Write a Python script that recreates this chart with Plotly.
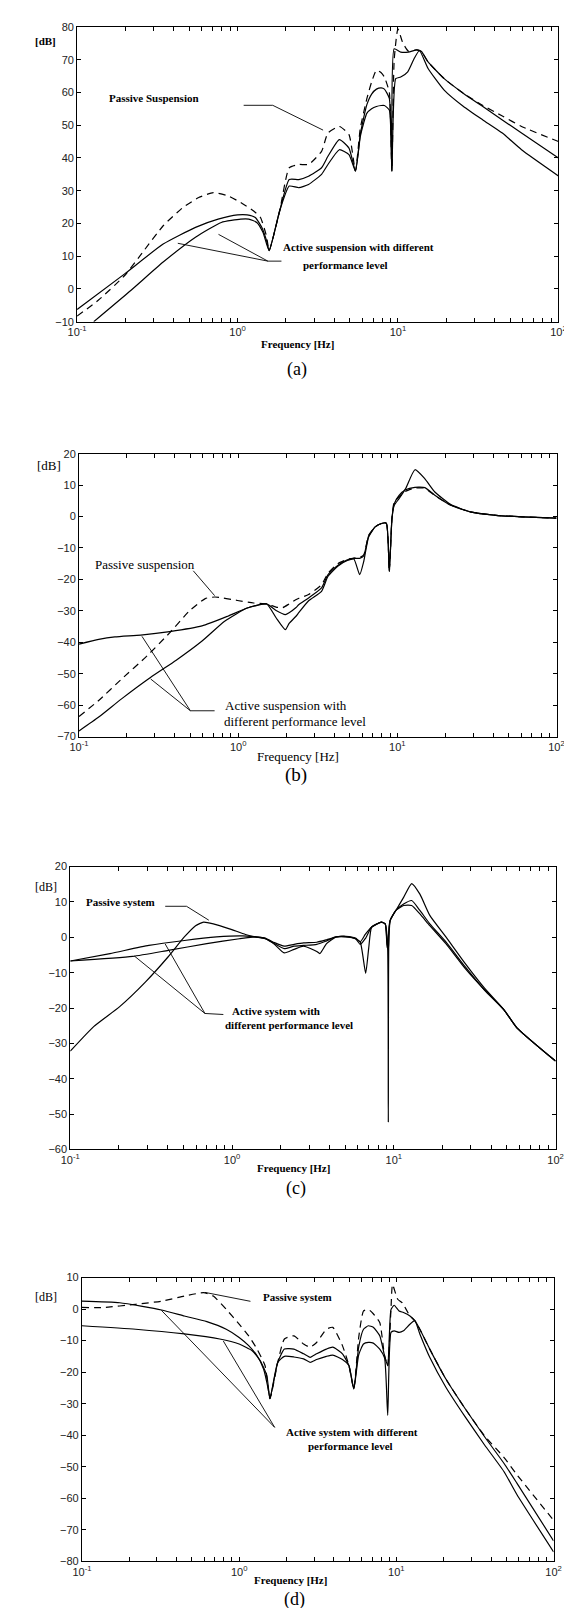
import plotly.graph_objects as go

W, H = 572, 1608

# ---------------- data (frequency in Hz, magnitude in dB) ----------------
# Panel (a)
fa_passive = [0.1,0.136,0.198,0.261,0.344,0.455,0.573,0.706,0.871,1.047,1.26,1.39,1.517,1.574,1.83,2.1,2.41,2.77,3.34,3.66,4.31,4.95,5.43,5.82,6.39,6.85,7.34,7.86,8.23,8.83,9.16,9.47,9.99,10.7,11.6,13.1,14.0,15.4,19.4,25.6,33.8,44.7,58.9,100]
da_passive = [-8.3,-3.4,4.1,11.7,19.3,24.8,27.9,29.4,28.4,26.4,23.8,21.8,16.0,11.7,23.8,37.0,38.0,38.0,42.0,47.6,49.6,47.1,36.0,49.0,58.0,63.2,66.8,66.0,64.7,60.0,36.0,70.0,79.4,75.2,72.6,73.0,72.5,69.3,64.2,59.7,56.0,52.8,49.6,45.0]
fa_active1 = [0.1,0.198,0.344,0.547,0.757,1.0,1.148,1.29,1.416,1.517,1.574,1.83,2.1,2.41,2.77,3.34,3.66,4.31,4.95,5.43,5.82,6.1,6.39,6.85,7.34,7.86,8.23,8.83,9.16,9.47,10.4,11.6,13.1,14.0,15.4,19.4,25.6,33.8,44.7,58.9,100]
da_active1 = [-6.3,4.6,13.7,18.8,21.3,22.6,22.6,21.8,18.8,14.7,11.7,23.8,33.4,33.4,34.4,37.0,40.5,45.6,43.0,36.0,47.1,52.1,56.2,59.5,61.0,61.4,61.0,58.2,36.0,73.3,72.3,72.3,73.0,72.5,69.3,64.2,59.7,55.7,51.6,47.6,40.0]
fa_active2 = [0.127,0.217,0.344,0.547,0.792,1.047,1.175,1.318,1.44,1.574,1.83,2.1,2.41,2.77,3.34,3.66,4.31,4.95,5.43,5.82,6.1,6.39,6.85,7.34,7.86,8.23,8.83,9.16,9.68,10.4,11.5,12.6,13.6,15.4,19.4,25.6,33.8,44.7,58.9,100]
da_active2 = [-10,-0.4,8.2,15.8,20.3,21.3,21.3,20.3,17.3,11.7,23.8,31.4,30.9,31.9,35.0,38.0,42.5,41.0,36.0,46.5,50.5,53.6,55.0,55.7,56.0,56.0,54.6,36.0,64.2,64.7,66.3,70.3,72.8,67.3,60.7,55.7,51.6,47.6,42.5,34.5]

# Panel (b)
fb_passive = [0.1,0.133,0.185,0.268,0.371,0.492,0.621,0.714,0.99,1.25,1.51,1.73,1.9,2.09,2.3,2.41,2.77,3.34,3.67,4.22,4.85,5.33,5.8,6.15,6.6,7.25,7.95,8.53,8.9,9.25,9.55,10.25,11.25,12.9,14.9,17.2,21.7,28.7,41.7,60.7,100]
db_passive = [-63.6,-58.5,-51.7,-44.3,-37.0,-30.1,-26.1,-25.6,-26.7,-27.5,-27.8,-28.8,-29.0,-27.8,-26.5,-26.0,-24.8,-21.7,-18.0,-15.0,-13.6,-13.2,-13.0,-12.2,-6.0,-3.3,-2.2,-2.2,-17.5,-0.6,4.6,6.2,8.0,9.1,9.0,6.7,3.6,1.5,0.4,-0.1,-0.5]
fb_active1 = [0.1,0.133,0.168,0.244,0.371,0.593,0.861,1.14,1.51,1.73,1.98,2.09,2.3,2.41,2.77,3.34,3.67,4.22,4.85,5.33,5.8,6.15,6.6,7.25,7.95,8.53,8.9,9.25,9.55,10.25,11.25,12.9,14.9,17.2,21.7,28.7,41.7,60.7,100]
db_active1 = [-40.6,-39.1,-38.3,-37.7,-36.6,-34.8,-31.7,-29.1,-27.8,-32.2,-36.0,-34.0,-31.8,-30.5,-26.8,-23.8,-19.0,-15.8,-14.0,-13.5,-18.5,-14.3,-6.5,-3.3,-2.2,-2.0,-17.5,-0.6,3.5,5.7,8.8,14.9,12.0,7.8,3.8,1.5,0.4,-0.1,-0.5]
fb_active2 = [0.1,0.133,0.185,0.281,0.408,0.593,0.822,1.14,1.51,1.73,1.98,2.09,2.3,2.41,2.77,3.34,3.67,4.22,4.85,5.33,5.8,6.15,6.6,7.25,7.95,8.53,8.9,9.25,9.55,10.25,11.25,12.9,14.9,17.2,21.7,28.7,41.7,60.7,100]
db_active2 = [-68.2,-63.8,-58.0,-51.2,-45.7,-39.6,-33.3,-29.1,-27.8,-29.9,-31.2,-30.6,-29.0,-28.0,-25.9,-22.7,-18.5,-15.6,-13.8,-13.3,-13.3,-12.5,-6.2,-3.3,-2.2,-2.2,-17.5,-0.6,4.0,6.7,8.5,9.3,9.2,6.8,3.6,1.5,0.4,-0.1,-0.5]

# Panel (c)
fc_passive = [0.1,0.14,0.202,0.292,0.403,0.507,0.595,0.667,0.766,0.964,1.21,1.39,1.6,1.83,2.1,2.42,2.77,3.34,3.49,3.84,4.4,5.05,5.8,6.2,6.7,7.0,7.3,8.38,8.85,9.1,9.5,10.3,11.5,12.9,14.5,16.7,21,27.6,36.4,48,57.7,100]
dc_passive = [-32.2,-25.2,-19.6,-12.6,-5.5,0.1,3.3,4.3,3.8,2.4,0.8,0.1,-0.4,-2.0,-4.4,-3.4,-2.5,-4.0,-4.6,-1.8,0.1,0.1,-0.4,-1.3,-10.2,-3.0,2.9,4.3,3.8,-3.0,4.8,7.6,11.3,15.2,12.2,6.2,0.1,-7.4,-14.4,-20.5,-25.6,-35.0]
fc_active1 = [0.1,0.176,0.306,0.507,0.802,1.16,1.39,1.6,1.83,2.1,2.42,2.77,3.34,3.84,4.4,5.05,5.8,6.2,6.66,7.3,8.38,8.85,9.1,9.25,9.5,10.3,11.5,12.9,14.5,16.7,21,27.6,36.4,48,57.7,100]
dc_active1 = [-6.7,-4.6,-2.3,-0.9,0.1,0.4,0.1,-0.2,-1.5,-2.5,-2.0,-1.6,-1.4,-0.7,0.1,0.3,-0.2,-1.3,0.8,2.9,4.3,3.8,-2.0,-3.5,4.8,7.6,9.4,10.4,7.6,3.8,-1.3,-8.3,-14.9,-20.5,-25.6,-35.0]
fc_active2 = [0.1,0.243,0.403,0.698,1.11,1.39,1.6,1.83,2.1,2.42,2.77,3.34,3.84,4.4,5.05,5.8,6.2,6.66,7.3,8.38,8.85,9.15,9.25,9.35,9.5,10.3,11.5,12.9,14.5,16.7,21,27.6,36.4,48,57.7,100]
dc_active2 = [-6.7,-5.4,-3.7,-1.8,-0.4,0.1,-0.3,-1.8,-3.2,-2.5,-2.3,-2.0,-1.0,0.1,0.2,-0.4,-2.0,-0.4,2.9,4.3,3.8,-2.0,-52.3,3.0,4.8,7.6,9.0,9.0,6.6,3.3,-1.8,-8.8,-14.9,-20.5,-25.6,-35.0]

# Panel (d)
fd_passive = [0.1,0.137,0.22,0.321,0.448,0.594,0.685,0.828,1.0,1.15,1.3,1.46,1.57,1.76,1.94,2.23,2.57,2.83,3.11,3.59,3.94,4.54,4.99,5.36,5.76,6.18,6.64,7.13,7.84,8.41,8.81,9.24,9.45,10.2,10.9,12.2,13.1,14.1,16.3,20.6,27.4,36.4,48.3,58.4,100]
dd_passive = [0.5,0.5,1.5,2.5,4.1,5.2,4.1,-0.1,-4.8,-8.5,-12.7,-17.9,-28.4,-16.9,-9.5,-8.5,-11.1,-12.1,-10.6,-6.4,-5.8,-11.6,-17.9,-25.3,-9.0,-0.6,-0.1,-1.5,-4.3,-14.8,-18.0,0.0,7.8,3.1,2.0,-2.2,-3.7,-6.4,-12.7,-22.1,-31.6,-40.2,-47.0,-52.5,-67.0]
fd_active1 = [0.1,0.174,0.321,0.448,0.623,0.828,1.0,1.15,1.3,1.43,1.53,1.57,1.76,1.94,2.23,2.57,2.83,3.11,3.59,3.94,4.54,4.99,5.36,5.76,6.18,6.64,7.13,7.84,8.41,8.81,9.24,9.68,10.4,11.1,12.2,13.1,14.1,16.3,20.6,27.4,36.4,48.3,58.4,100]
dd_active1 = [2.5,2.0,-0.3,-2.2,-4.0,-6.4,-9.0,-11.6,-14.8,-19.0,-25.3,-28.4,-16.9,-12.7,-12.7,-14.2,-15.3,-14.2,-12.7,-12.1,-14.2,-17.9,-25.3,-12.0,-6.4,-5.3,-5.8,-8.5,-14.8,-18.0,-0.2,1.2,-0.6,-1.1,-2.2,-3.7,-6.4,-12.7,-22.1,-31.6,-40.5,-48.9,-55.2,-73.5]
fd_active2 = [0.1,0.22,0.448,0.753,1.0,1.21,1.36,1.5,1.57,1.76,1.94,2.23,2.57,2.83,3.11,3.59,3.94,4.54,4.99,5.36,5.76,6.18,6.64,7.13,7.84,8.41,8.81,9.24,9.68,10.4,11.1,12.2,13.1,14.1,16.3,20.6,27.4,36.4,48.3,58.4,100]
dd_active2 = [-5.3,-6.4,-7.9,-9.5,-11.1,-13.2,-16.3,-21.1,-28.4,-16.9,-15.0,-15.2,-15.8,-16.9,-16.0,-15.0,-14.6,-16.0,-17.9,-25.3,-14.5,-11.1,-10.6,-10.8,-12.7,-15.5,-33.7,-7.4,-6.9,-7.4,-6.9,-4.8,-3.7,-7.9,-15.3,-24.7,-34.2,-43.1,-51.5,-58.8,-77.0]

# axis ticks
x_major_values = [0.1, 1.0, 10.0, 100.0]
x_major_labels = ["10<sup>-1</sup>", "10<sup>0</sup>", "10<sup>1</sup>", "10<sup>2</sup>"]
x_minor_values = [m * 10.0 ** e for e in (-1, 0, 1) for m in range(2, 10)]
y_ranges = {"a": [-10, 80], "b": [-70, 20], "c": [-60, 20], "d": [-80, 10]}

# ---------------- layout geometry (pixels) ----------------
panels = [
    dict(key="a", box=(61, 558, 13, 310),
         curves=[(fa_passive, da_passive, "dash"), (fa_active1, da_active1, "solid"), (fa_active2, da_active2, "solid")]),
    dict(key="b", box=(63, 556, 443, 728),
         curves=[(fb_passive, db_passive, "dash"), (fb_active1, db_active1, "solid"), (fb_active2, db_active2, "solid")]),
    dict(key="c", box=(54, 555, 859, 1144),
         curves=[(fc_passive, dc_passive, "solid"), (fc_active1, dc_active1, "solid"), (fc_active2, dc_active2, "solid")]),
    dict(key="d", box=(66, 553, 1273, 1559),
         curves=[(fd_passive, dd_passive, "dash"), (fd_active1, dd_active1, "solid"), (fd_active2, dd_active2, "solid")]),
]

def px(x):
    return x / W

def py(y):
    return 1 - y / H

fig = go.Figure()
tickfont = dict(family="Liberation Sans, Arial, sans-serif", size=11, color="#222")

for i, p in enumerate(panels):
    n = "" if i == 0 else str(i + 1)
    xa, ya = "x" + n, "y" + n
    x0, x1, y0, y1 = p["box"]
    for f, d, dash in p["curves"]:
        fig.add_trace(go.Scatter(
            x=f, y=d, mode="lines", xaxis=xa, yaxis=ya,
            line=dict(color="black", width=1.2,
                      dash="7px,5px" if dash == "dash" else "solid",
                      shape="spline", smoothing=0.5),
            hoverinfo="skip", showlegend=False))
    fig.layout["xaxis" + n] = dict(
        domain=[px(x0), px(x1)], anchor=ya, type="log", range=[-1, 2],
        tickmode="array", tickvals=x_major_values, ticktext=x_major_labels,
        ticks="inside", ticklen=4, tickwidth=1, tickcolor="black",
        minor=dict(tickmode="array", tickvals=x_minor_values, ticks="inside",
                   ticklen=4, tickwidth=1, tickcolor="black", showgrid=False),
        showline=True, linecolor="black", linewidth=1, mirror="ticks",
        showgrid=False, zeroline=False, tickfont=tickfont)
    fig.layout["yaxis" + n] = dict(
        domain=[py(y1), py(y0)], anchor=xa, range=y_ranges[p["key"]],
        tick0=0, dtick=10, ticks="inside", ticklen=4, tickwidth=1, tickcolor="black",
        showline=True, linecolor="black", linewidth=1, mirror="ticks",
        showgrid=False, zeroline=False, tickfont=tickfont)

# ---------------- text annotations ----------------
serif = "Liberation Serif, Times New Roman, serif"
texts = [
    # panel (a)
    ("[dB]", 15, 27, "left", 11, "bold"),
    ("Passive Suspension", 92, 85, "left", 11, "bold"),
    ("Active suspension with different", 272, 235, "left", 11, "bold"),
    ("performance level", 292, 253, "left", 11, "bold"),
    ("Frequency [Hz]", 249, 332, "left", 11, "bold"),
    ("(a)", 288, 358, "center", 18, "normal"),
    # panel (b)
    ("[dB]", 18, 455, "left", 13, "normal"),
    ("Passive suspension", 77, 555, "left", 13, "normal"),
    ("Active suspension with", 212, 697, "left", 13, "normal"),
    ("different performance level", 211, 713, "left", 13, "normal"),
    ("Frequency [Hz]", 245, 748, "left", 13, "normal"),
    ("(b)", 287, 767, "center", 19, "normal"),
    # panel (c)
    ("[dB]", 16, 880, "left", 12, "normal"),
    ("Passive system", 68, 895, "left", 11, "bold"),
    ("Active system with", 219, 1004, "left", 11, "bold"),
    ("different performance level", 212, 1019, "left", 11, "bold"),
    ("Frequency [Hz]", 245, 1163, "left", 11, "bold"),
    ("(c)", 287, 1183, "center", 18, "normal"),
    # panel (d)
    ("[dB]", 16, 1293, "left", 12, "normal"),
    ("Passive system", 251, 1293, "left", 11, "bold"),
    ("Active system with different", 275, 1429, "left", 11, "bold"),
    ("performance level", 297, 1443, "left", 11, "bold"),
    ("Frequency [Hz]", 242, 1578, "left", 11, "bold"),
    ("(d)", 285, 1597, "center", 18, "normal"),
]
for t, x, y, anc, size, weight in texts:
    fig.add_annotation(text=t, x=px(x), y=py(y), xref="paper", yref="paper",
                       xanchor=anc, yanchor="middle", showarrow=False,
                       font=dict(family=serif, size=size, color="black", weight=weight))

# leader lines (pixel coordinates)
leaders = [
    [(233, 92), (263, 92), (315, 117)],
    [(165, 231), (258, 249), (272, 249)],
    [(207, 222), (258, 249)],
    [(181, 561), (203, 586)],
    [(128, 627), (178, 702), (203, 702)],
    [(137, 670), (178, 702)],
    [(152, 899), (174, 899), (197, 913)],
    [(120, 949), (193, 1007), (212, 1008)],
    [(152, 937), (193, 1007)],
    [(193, 1288), (240, 1297)],
    [(148, 1306), (265, 1424)],
    [(212, 1337), (265, 1424)],
]
for pts in leaders:
    path = "M " + " L ".join(f"{px(x):.5f},{py(y):.5f}" for x, y in pts)
    fig.add_shape(type="path", path=path, xref="paper", yref="paper",
                  line=dict(color="black", width=0.9))

fig.update_layout(width=W, height=H, margin=dict(l=0, r=0, t=0, b=0),
                  paper_bgcolor="white", plot_bgcolor="white", showlegend=False)

fig.write_html("out.html")
